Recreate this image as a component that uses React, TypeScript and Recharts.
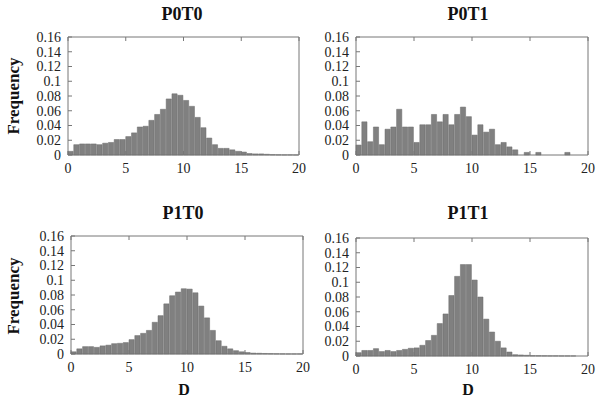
import React from 'react';
import { BarChart, Bar, XAxis, YAxis } from 'recharts';

// bin centres, 0.5 wide bins from 0 to 20
const binCenters = [
  0.25, 0.75, 1.25, 1.75, 2.25, 2.75, 3.25, 3.75, 4.25, 4.75,
  5.25, 5.75, 6.25, 6.75, 7.25, 7.75, 8.25, 8.75, 9.25, 9.75,
  10.25, 10.75, 11.25, 11.75, 12.25, 12.75, 13.25, 13.75, 14.25, 14.75,
  15.25, 15.75, 16.25, 16.75, 17.25, 17.75, 18.25, 18.75, 19.25, 19.75,
];

const p0t0 = [
  0.005, 0.014, 0.015, 0.015, 0.015, 0.014, 0.016, 0.017, 0.021, 0.021,
  0.025, 0.03, 0.038, 0.039, 0.047, 0.055, 0.062, 0.076, 0.083, 0.081,
  0.074, 0.066, 0.051, 0.037, 0.023, 0.014, 0.009, 0.009, 0.007, 0.005,
  0.004, 0.002, 0.0015, 0.0015, 0.001, 0.0005, 0.0003, 0.0002, 0.0002, 0.0001,
];

const p0t1 = [
  0.0135, 0.045, 0.018, 0.038, 0.014, 0.035, 0.038, 0.062, 0.038, 0.038,
  0.017, 0.041, 0.041, 0.055, 0.045, 0.055, 0.041, 0.055, 0.065, 0.052,
  0.027, 0.041, 0.031, 0.035, 0.014, 0.017, 0.011, 0.007, 0, 0.0035,
  0, 0.0035, 0, 0, 0, 0, 0.0035, 0, 0, 0,
];

const p1t0 = [
  0.003, 0.007, 0.01, 0.01, 0.009, 0.011, 0.012, 0.014, 0.0145, 0.0155,
  0.0195, 0.025, 0.028, 0.032, 0.043, 0.052, 0.068, 0.079, 0.084, 0.0885,
  0.088, 0.083, 0.065, 0.049, 0.032, 0.018, 0.0105, 0.007, 0.0045, 0.003,
  0.002, 0.0012, 0.001, 0.0007, 0.0005, 0.0003, 0.0002, 0.0001, 0.0001, 0.0001,
];

const p1t1 = [
  0.0045, 0.0075, 0.0075, 0.01, 0.006, 0.0075, 0.006, 0.0075, 0.009, 0.0105,
  0.011, 0.0145, 0.021, 0.028, 0.044, 0.057, 0.082, 0.108, 0.124, 0.124,
  0.103, 0.08, 0.05, 0.0325, 0.02, 0.011, 0.0054, 0.0018, 0.0014, 0.001,
  0.0005, 0.0004, 0.0003, 0.0002, 0.0002, 0.0001, 0.0001, 0.0001, 0, 0,
];

const xTicks = [0, 5, 10, 15, 20];
const yTicks = [0, 0.02, 0.04, 0.06, 0.08, 0.1, 0.12, 0.14, 0.16];

const FONT = '"Liberation Serif", "Times New Roman", serif';
const AXIS = '#777';

interface PanelProps {
  values: number[];
  left: number;
  top: number;
  width: number;
  height: number;
}

const Panel: React.FC<PanelProps> = ({ values, left, top, width, height }) => {
  const rows = binCenters.map((x, i) => ({ x, f: values[i] }));
  const tickStyle = { fill: '#222', fontSize: 14, fontFamily: FONT };
  const blank = () => '';
  return (
    <div style={{ position: 'absolute', left: left - 60, top: top - 10, fontFamily: FONT }}>
      <BarChart
        width={width + 70}
        height={height + 40}
        data={rows}
        margin={{ top: 9, right: 9, left: 0, bottom: 0 }}
        barCategoryGap={0}
        barGap={0}
      >
        <XAxis
          xAxisId="num"
          dataKey="x"
          type="number"
          domain={[0, 20]}
          ticks={xTicks}
          interval={0}
          height={30}
          tickSize={-4}
          tickMargin={12}
          stroke={AXIS}
          tick={tickStyle}
        />
        <XAxis
          xAxisId="top"
          orientation="top"
          dataKey="x"
          type="number"
          domain={[0, 20]}
          ticks={xTicks}
          interval={0}
          height={1}
          tickSize={-4}
          tickFormatter={blank}
          stroke={AXIS}
        />
        <YAxis
          yAxisId="l"
          domain={[0, 0.16]}
          ticks={yTicks}
          interval={0}
          width={60}
          tickSize={-4}
          tickMargin={11}
          stroke={AXIS}
          tick={tickStyle}
          tickFormatter={(v) => String(v)}
        />
        <YAxis
          yAxisId="r"
          orientation="right"
          domain={[0, 0.16]}
          ticks={yTicks}
          interval={0}
          width={1}
          tickSize={-4}
          tickFormatter={blank}
          stroke={AXIS}
        />
        <Bar
          xAxisId="num"
          yAxisId="l"
          dataKey="f"
          barSize={width / 40}
          fill="#808080"
          stroke="#6a6a6a"
          strokeWidth={0.5}
          isAnimationActive={false}
        />
      </BarChart>
    </div>
  );
};

const Label: React.FC<{ x: number; y: number; size: number; rotate?: boolean; children: React.ReactNode }> = ({
  x,
  y,
  size,
  rotate,
  children,
}) => (
  <div
    style={{
      position: 'absolute',
      left: x,
      top: y,
      transform: `translate(-50%, -50%)${rotate ? ' rotate(-90deg)' : ''}`,
      fontFamily: FONT,
      fontWeight: 'bold',
      fontSize: size,
      lineHeight: 1,
      whiteSpace: 'nowrap',
      color: '#111',
    }}
  >
    {children}
  </div>
);

export default function App() {
  return (
    <div style={{ position: 'absolute', left: 0, top: 0, width: 600, height: 401, background: '#fff', overflow: 'hidden', fontFamily: FONT }}>
      <Panel values={p0t0} left={68} top={37} width={231} height={118} />
      <Panel values={p0t1} left={356} top={37} width={232} height={118} />
      <Panel values={p1t0} left={71} top={236} width={232} height={118} />
      <Panel values={p1t1} left={356} top={238} width={232} height={118} />

      <Label x={182} y={14} size={18}>P0T0</Label>
      <Label x={468} y={14} size={18}>P0T1</Label>
      <Label x={183} y={213} size={18}>P1T0</Label>
      <Label x={468} y={213} size={18}>P1T1</Label>

      <Label x={13} y={96} size={17} rotate>Frequency</Label>
      <Label x={13} y={296} size={17} rotate>Frequency</Label>

      <Label x={184} y={390} size={16}>D</Label>
      <Label x={468} y={390} size={16}>D</Label>
    </div>
  );
}
